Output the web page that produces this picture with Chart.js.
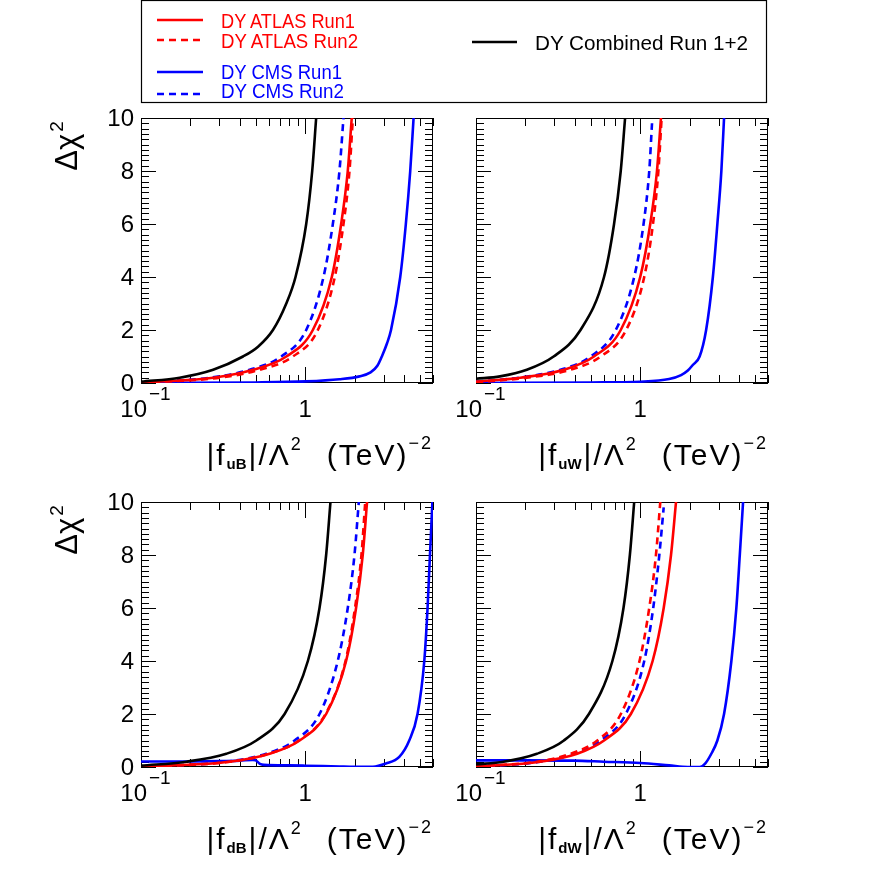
<!DOCTYPE html>
<html><head><meta charset="utf-8">
<script src="https://cdn.jsdelivr.net/npm/chart.js@4.4.1/dist/chart.umd.min.js"></script>
<style>
html,body{margin:0;padding:0;background:#fff;}
#wrap{position:relative;width:886px;height:886px;overflow:hidden;background:#fff;}
canvas{position:absolute;left:0;top:0;}
svg{position:absolute;left:0;top:0;}
</style></head><body>
<div id="wrap">
<canvas id="c0" width="886" height="886"></canvas>
<canvas id="c1" width="886" height="886"></canvas>
<canvas id="c2" width="886" height="886"></canvas>
<canvas id="c3" width="886" height="886"></canvas>
<svg id="ov" width="886" height="886" xmlns="http://www.w3.org/2000/svg" font-family="'Liberation Sans', Arial, sans-serif"></svg>
</div>
<script>
// ---------------- data ----------------
const seriesNames = ['DY ATLAS Run1', 'DY ATLAS Run2', 'DY CMS Run1', 'DY CMS Run2', 'DY Combined Run 1+2'];
const xTickValues = [0.1, 1];
const xTickBase = ['10', '1'];
const xTickExp = ['\u22121', ''];
const yTickValues = [0, 2, 4, 6, 8, 10];
const coeffNames = ['uB', 'uW', 'dB', 'dW'];

// |f_uB|
const uB_atlas1 = [[0.1,0.02],[0.275,0.2],[0.481,0.5],[0.767,1],[1.113,2],[1.452,4],[1.655,6],[1.816,8],[1.92,10]];
const uB_atlas2 = [[0.1,0.01],[0.302,0.2],[0.528,0.5],[0.842,1],[1.194,2],[1.514,4],[1.71,6],[1.86,8],[1.95,10]];
const uB_cms1   = [[0.1,0.0],[0.5,0.02],[1.01,0.06],[1.616,0.14],[2.14,0.25],[2.5,0.4],[2.75,0.65],[2.95,1.05],[3.15,1.5],[3.33,2],[3.79,4],[4.10,6],[4.36,8],[4.57,10]];
const uB_cms2   = [[0.1,0.02],[0.262,0.2],[0.459,0.5],[0.715,1],[1.014,2],[1.292,4],[1.473,6],[1.616,8],[1.71,10]];
const uB_comb   = [[0.1,0.05],[0.172,0.2],[0.275,0.5],[0.418,1],[0.516,1.37],[0.636,2],[0.767,3],[0.873,4],[1.014,6],[1.103,8],[1.166,10]];

// |f_uW|
const uW_atlas1 = [[0.1,0.05],[0.186,0.2],[0.343,0.5],[0.523,1],[0.761,2],[1.0,4],[1.151,6],[1.265,8],[1.338,10]];
const uW_atlas2 = [[0.1,0.03],[0.204,0.2],[0.376,0.5],[0.574,1],[0.821,2],[1.058,4],[1.196,6],[1.29,8],[1.35,10]];
const uW_cms1   = [[0.1,0.0],[0.5,0.02],[1.0,0.05],[1.5,0.15],[1.774,0.3],[1.95,0.47],[2.09,0.68],[2.30,1.0],[2.52,2],[2.77,4],[2.95,6],[3.12,8],[3.24,10]];
const uW_cms2   = [[0.1,0.05],[0.182,0.2],[0.327,0.5],[0.499,1],[0.71,2],[0.919,4],[1.048,6],[1.135,8],[1.18,9.8]];
const uW_comb   = [[0.1,0.16],[0.14,0.25],[0.204,0.5],[0.297,1],[0.433,2],[0.602,4],[0.693,6],[0.761,8],[0.809,10]];

// |f_dB|
const dB_atlas1 = [[0.1,0.02],[0.347,0.2],[0.607,0.5],[0.924,1],[1.341,2],[1.774,4],[2.04,6],[2.24,8],[2.38,10]];
const dB_atlas2 = [[0.1,0.01],[0.347,0.2],[0.6,0.5],[0.915,1],[1.33,2],[1.76,4],[2.01,6],[2.2,8],[2.32,10]];
const dB_cms1   = [[0.1,0.21],[0.2,0.21],[0.3,0.22],[0.4,0.24],[0.48,0.27],[0.5,0.25],[0.53,0.12],[0.56,0.08],[0.8,0.06],[1.0,0.05],[1.62,0.02],[2.0,0.01],[2.58,0.01],[3.1,0.13],[3.74,0.38],[4.3,1],[4.83,2],[5.31,4],[5.56,6],[5.75,8],[5.95,10]];
const dB_cms2   = [[0.1,0.01],[0.331,0.2],[0.579,0.5],[0.861,1],[1.222,2],[1.578,4],[1.816,6],[1.995,8],[2.12,10]];
const dB_comb   = [[0.1,0.05],[0.189,0.2],[0.331,0.5],[0.504,1],[0.749,2],[1.038,4],[1.222,6],[1.341,8],[1.425,10]];

// |f_dW|
const dW_atlas1 = [[0.1,0.02],[0.246,0.2],[0.413,0.5],[0.602,1],[0.877,2],[1.19,4],[1.39,6],[1.54,8],[1.652,10]];
const dW_atlas2 = [[0.1,0.02],[0.235,0.2],[0.376,0.5],[0.548,1],[0.762,2],[0.99,4],[1.135,6],[1.247,8],[1.325,10]];
const dW_cms1   = [[0.1,0.25],[0.2,0.25],[0.394,0.24],[0.6,0.2],[1.0,0.15],[1.5,0.06],[1.95,0.0],[2.3,0.0],[2.5,0.15],[2.71,0.5],[2.95,1],[3.24,2],[3.59,4],[3.85,6],[4.04,8],[4.23,10]];
const dW_cms2   = [[0.1,0.0],[0.246,0.2],[0.394,0.5],[0.574,1],[0.817,2],[1.058,4],[1.2,6],[1.307,8],[1.39,9.8]];
const dW_comb   = [[0.1,0.1],[0.147,0.2],[0.235,0.5],[0.343,1],[0.487,2],[0.677,4],[0.791,6],[0.865,8],[0.919,10]];

const xMin = 0.1, xMax = 6, yMin = 0, yMax = 10;

// ---------------- layout / style ----------------
const FONT = "'Liberation Sans', Arial, sans-serif";
const W = 886, H = 886;
const panels = [
  {canvas:'c0', area:[141,118,433,383], yLabels:true,  sets:[uB_comb, uB_atlas1, uB_atlas2, uB_cms1, uB_cms2]},
  {canvas:'c1', area:[476,118,768,383], yLabels:false, sets:[uW_comb, uW_atlas1, uW_atlas2, uW_cms1, uW_cms2]},
  {canvas:'c2', area:[141,502,433,767], yLabels:true,  sets:[dB_comb, dB_atlas1, dB_atlas2, dB_cms1, dB_cms2]},
  {canvas:'c3', area:[476,502,768,767], yLabels:false, sets:[dW_comb, dW_atlas1, dW_atlas2, dW_cms1, dW_cms2]}
];
const setNameIndex = [4, 0, 1, 2, 3];
const styles = [
  {color:'#000000', dash:[]},
  {color:'#ff0000', dash:[]},
  {color:'#ff0000', dash:[7,5]},
  {color:'#0000ff', dash:[]},
  {color:'#0000ff', dash:[7,5]}
];

const rootAxes = {
  id:'rootAxes',
  beforeDatasetsDraw(chart, args, opts){
    const ctx = chart.ctx, a = chart.chartArea, xs = chart.scales.x, ys = chart.scales.y;
    ctx.save();
    ctx.strokeStyle = '#000'; ctx.lineWidth = 1;
    const L = Math.round(a.left), T = Math.round(a.top), R = Math.round(a.right), B = Math.round(a.bottom);
    ctx.strokeRect(L+0.5, T+0.5, R-L-1, B-T-1);
    ctx.beginPath();
    for (let d = 0.1; d < xMax; d *= 10) {
      for (let k = 1; k < 10; k++) {
        const v = d*k;
        if (v < xMin*0.999 || v > xMax*1.001) continue;
        const px = Math.round(xs.getPixelForValue(v)) + 0.5;
        const len = k === 1 ? 16 : 8;
        ctx.moveTo(px, B); ctx.lineTo(px, B-len);
        ctx.moveTo(px, T); ctx.lineTo(px, T+len);
      }
    }
    for (let i = 0; i <= 50; i++) {
      const v = i*0.2;
      const py = Math.round(ys.getPixelForValue(v)) + 0.5;
      const len = i % 10 === 0 ? 15 : 8;
      ctx.moveTo(L, py); ctx.lineTo(L+len, py);
      ctx.moveTo(R, py); ctx.lineTo(R-len, py);
    }
    ctx.stroke();
    ctx.fillStyle = '#000';
    if (opts.yLabels) {
      ctx.font = '24px ' + FONT;
      ctx.textAlign = 'right'; ctx.textBaseline = 'middle';
      yTickValues.forEach(v => ctx.fillText(String(v), L-7, ys.getPixelForValue(v)+1));
    }
    ctx.textBaseline = 'alphabetic';
    xTickValues.forEach((v, i) => {
      const px = xs.getPixelForValue(v);
      ctx.font = '24px ' + FONT;
      if (xTickExp[i]) {
        ctx.textAlign = 'right';
        ctx.fillText(xTickBase[i], px+6, B+34);
        ctx.font = '19px ' + FONT;
        ctx.textAlign = 'left';
        ctx.fillText(xTickExp[i], px+8, B+17);
      } else {
        ctx.textAlign = 'center';
        ctx.fillText(xTickBase[i], px, B+34);
      }
    });
    ctx.restore();
  }
};

panels.forEach(p => {
  const a = p.area;
  new Chart(document.getElementById(p.canvas), {
    type:'line',
    data:{datasets: p.sets.map((s, i) => ({
      label: seriesNames[setNameIndex[i]],
      data: s.map(q => ({x:q[0], y:q[1]})),
      borderColor: styles[i].color,
      borderDash: styles[i].dash,
      borderWidth: 2.6,
      pointRadius: 0,
      fill: false,
      cubicInterpolationMode: 'monotone'
    }))},
    options:{
      responsive:false, animation:false, devicePixelRatio:1, events:[],
      layout:{padding:{left:a[0], top:a[1], right:W-a[2], bottom:H-a[3]}},
      scales:{
        x:{type:'logarithmic', min:xMin, max:xMax, display:false},
        y:{type:'linear', min:yMin, max:yMax, display:false}
      },
      plugins:{legend:{display:false}, tooltip:{enabled:false}, rootAxes:{yLabels:p.yLabels}}
    },
    plugins:[rootAxes]
  });
});

// ---------------- overlay: legend + axis titles ----------------
const NS = 'http://www.w3.org/2000/svg';
const svg = document.getElementById('ov');
function el(tag, attrs, text){
  const e = document.createElementNS(NS, tag);
  for (const k in attrs) e.setAttribute(k, attrs[k]);
  if (text !== undefined) e.textContent = text;
  svg.appendChild(e); return e;
}
el('rect', {x:141.5, y:0.5, width:625, height:102, fill:'none', stroke:'#000', 'stroke-width':1.2});
const legendItems = [
  {name:seriesNames[0], color:'#ff0000', dash:'', x1:157, x2:203, ly:20, tx:221, ty:28, tl:134},
  {name:seriesNames[1], color:'#ff0000', dash:'7 5', x1:157, x2:203, ly:40, tx:221, ty:48, tl:137},
  {name:seriesNames[2], color:'#0000ff', dash:'', x1:157, x2:203, ly:72, tx:221, ty:79, tl:121},
  {name:seriesNames[3], color:'#0000ff', dash:'7 5', x1:157, x2:203, ly:94, tx:221, ty:98, tl:123},
  {name:seriesNames[4], color:'#000000', dash:'', x1:472, x2:517, ly:42, tx:535, ty:50, tl:213}
];
legendItems.forEach(it => {
  const ln = {x1:it.x1, y1:it.ly, x2:it.x2, y2:it.ly, stroke:it.color, 'stroke-width':2.6};
  if (it.dash) ln['stroke-dasharray'] = it.dash;
  el('line', ln);
  el('text', {x:it.tx, y:it.ty, 'font-size':21, fill:it.color, textLength:it.tl, lengthAdjust:'spacingAndGlyphs'}, it.name);
});

function yTitle(cy){
  const t = el('text', {x:77, y:cy, transform:`rotate(-90 77 ${cy})`, 'text-anchor':'middle', 'font-size':31, fill:'#000'});
  t.appendChild(document.createTextNode('\u0394\u03c7'));
  const s = document.createElementNS(NS, 'tspan');
  s.setAttribute('font-size', 19); s.setAttribute('dy', -14); s.setAttribute('dx', 2); s.textContent = '2';
  t.appendChild(s);
}
yTitle(146); yTitle(530);

function xTitle(right, base, sub){
  const t = el('text', {x:right, y:base, 'text-anchor':'end', 'font-size':30, fill:'#000', 'letter-spacing':2});
  const parts = [
    {txt:'|f'},
    {txt:sub, fs:15, fw:'bold', dy:4, ls:0},
    {txt:'|/\u039b', dy:-4, dx:2},
    {txt:'2', fs:18, dy:-15},
    {txt:'(TeV)', dy:15, dx:24},
    {txt:'\u22122', fs:18, dy:-16}
  ];
  parts.forEach(p => {
    const s = document.createElementNS(NS, 'tspan');
    if (p.fs) s.setAttribute('font-size', p.fs);
    if (p.fw) s.setAttribute('font-weight', p.fw);
    if (p.dy) s.setAttribute('dy', p.dy);
    if (p.dx) s.setAttribute('dx', p.dx);
    if (p.ls !== undefined) s.setAttribute('letter-spacing', p.ls);
    s.textContent = p.txt;
    t.appendChild(s);
  });
}
xTitle(433, 465, coeffNames[0]);
xTitle(768, 465, coeffNames[1]);
xTitle(433, 849, coeffNames[2]);
xTitle(768, 849, coeffNames[3]);
</script>
</body></html>
